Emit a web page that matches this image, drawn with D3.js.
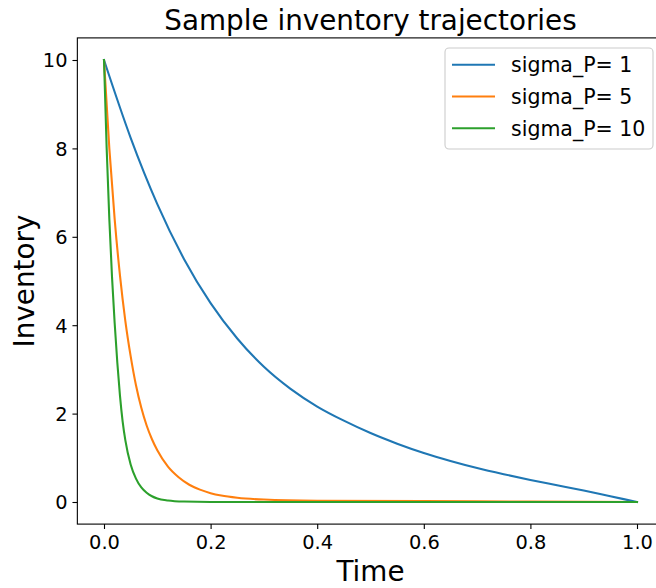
<!DOCTYPE html>
<html>
<head>
<meta charset="utf-8">
<script src="https://cdn.jsdelivr.net/npm/d3@7"></script>
<style>
  html, body { margin: 0; padding: 0; background: #fff; }
  svg { display: block; font-family: "DejaVu Sans", sans-serif; }
</style>
</head>
<body>
<svg id="chart" width="656" height="588"></svg>
<script>
// ---- data ----
const seriesNames = ["sigma_P= 1", "sigma_P= 5", "sigma_P= 10"];
const seriesColors = ["#1f77b4", "#ff7f0e", "#2ca02c"];

const timeP1 = [0, 0.05, 0.1, 0.15, 0.2, 0.25, 0.3, 0.35, 0.4, 0.45, 0.5, 0.55, 0.6, 0.65, 0.7, 0.75, 0.8, 0.85, 0.9, 0.95, 1.0];
const invP1  = [10, 8.24, 6.74, 5.5, 4.5, 3.7, 3.06, 2.56, 2.16, 1.84, 1.56, 1.32, 1.11, 0.93, 0.77, 0.63, 0.5, 0.38, 0.26, 0.13, 0];

const timeP5 = [0, 0.01, 0.02, 0.03, 0.04, 0.05, 0.06, 0.07, 0.08, 0.09, 0.1, 0.12, 0.14, 0.16, 0.18, 0.2, 0.22, 0.25, 0.3, 0.4, 0.6, 0.8, 1.0];
const invP5  = [10, 8.0, 6.4, 5.12, 4.1, 3.3, 2.64, 2.13, 1.73, 1.42, 1.17, 0.8, 0.56, 0.39, 0.28, 0.2, 0.145, 0.095, 0.055, 0.03, 0.02, 0.01, 0];

const timeP10 = [0, 0.005, 0.01, 0.015, 0.02, 0.025, 0.03, 0.035, 0.04, 0.05, 0.06, 0.07, 0.08, 0.09, 0.1, 0.12, 0.15, 0.2, 0.4, 0.6, 0.8, 1.0];
const invP10  = [10, 8.0, 6.4, 5.1, 4.05, 3.15, 2.4, 1.82, 1.4, 0.85, 0.53, 0.33, 0.21, 0.13, 0.08, 0.035, 0.01, 0, 0, 0, 0, 0];

const xTicks = [0, 0.2, 0.4, 0.6, 0.8, 1.0];
const yTicks = [0, 2, 4, 6, 8, 10];
const titleText = "Sample inventory trajectories";
const xLabel = "Time";
const yLabel = "Inventory";

const series = [
  { name: seriesNames[0], color: seriesColors[0], pts: timeP1.map((t, i) => [t, invP1[i]]) },
  { name: seriesNames[1], color: seriesColors[1], pts: timeP5.map((t, i) => [t, invP5[i]]) },
  { name: seriesNames[2], color: seriesColors[2], pts: timeP10.map((t, i) => [t, invP10[i]]) }
];

// ---- layout ----
const svg = d3.select("#chart");
const L = 77.35, R = 663.65, T = 37.9, B = 524.1;
const x = d3.scaleLinear().domain([-0.05, 1.05]).range([L, R]);
const y = d3.scaleLinear().domain([-0.5, 10.5]).range([B, T]);

const tickFs = 19.4, labelFs = 27.8, legendFs = 20.5;

// lines
const line = d3.line().x(d => x(d[0])).y(d => y(d[1])).curve(d3.curveMonotoneX);
series.forEach(s => {
  svg.append("path")
    .attr("d", line(s.pts))
    .attr("fill", "none")
    .attr("stroke", s.color)
    .attr("stroke-width", 2.08)
    .attr("stroke-linejoin", "round")
    .attr("stroke-linecap", "square");
});

// spines
const sp = svg.append("g").attr("stroke", "#000").attr("stroke-width", 1.1).attr("fill", "none");
sp.append("rect").attr("x", L).attr("y", T).attr("width", R - L).attr("height", B - T);

// x axis
const xAxis = d3.axisBottom(x).tickValues(xTicks).tickFormat(d3.format(".1f")).tickSizeOuter(0).tickSize(4.9).tickPadding(4.9);
const gx = svg.append("g").attr("transform", `translate(0,${B})`).call(xAxis);
gx.select(".domain").remove();
gx.selectAll(".tick line").attr("stroke", "#000").attr("stroke-width", 1.1);
gx.selectAll(".tick text").attr("font-size", tickFs).attr("font-family", "DejaVu Sans").attr("fill", "#000").attr("dy", "0.76em");

// y axis
const yAxis = d3.axisLeft(y).tickValues(yTicks).tickFormat(d3.format("d")).tickSizeOuter(0).tickSize(4.9).tickPadding(4.9);
const gy = svg.append("g").attr("transform", `translate(${L},0)`).call(yAxis);
gy.select(".domain").remove();
gy.selectAll(".tick line").attr("stroke", "#000").attr("stroke-width", 1.1);
gy.selectAll(".tick text").attr("font-size", tickFs).attr("font-family", "DejaVu Sans").attr("fill", "#000").attr("dy", "0.36em");

// title & labels
svg.append("text").attr("x", (L + R) / 2).attr("y", 30).attr("text-anchor", "middle")
  .attr("font-size", labelFs).attr("fill", "#000").text(titleText);
svg.append("text").attr("x", (L + R) / 2).attr("y", 581).attr("text-anchor", "middle")
  .attr("font-size", labelFs).attr("fill", "#000").text(xLabel);
svg.append("text").attr("transform", `translate(34,${(T + B) / 2}) rotate(-90)`).attr("text-anchor", "middle")
  .attr("font-size", labelFs).attr("fill", "#000").text(yLabel);

// legend
const lg = svg.append("g");
lg.append("rect").attr("x", 445).attr("y", 48).attr("width", 208).attr("height", 101)
  .attr("rx", 4).attr("fill", "#fff").attr("fill-opacity", 0.8).attr("stroke", "#cccccc").attr("stroke-width", 1.1);
series.forEach((s, i) => {
  const cy = 64.7 + i * 31.8;
  lg.append("line").attr("x1", 452).attr("x2", 495).attr("y1", cy).attr("y2", cy)
    .attr("stroke", s.color).attr("stroke-width", 2.08);
  lg.append("text").attr("x", 511).attr("y", cy).attr("dy", "0.36em")
    .attr("font-size", legendFs).attr("fill", "#000").text(s.name);
});
</script>
</body>
</html>
